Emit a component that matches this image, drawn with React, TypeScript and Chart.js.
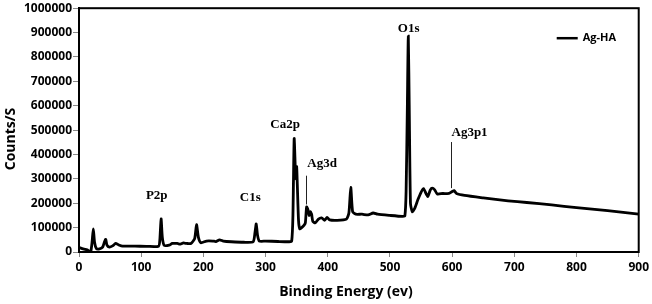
import React, { useEffect, useRef } from "react";
import { Chart, registerables } from "chart.js";

Chart.register(...registerables);

// Binding energy (eV) and counts/s
const energy = [
  0, 3, 8, 13, 17, 19, 21, 23, 25, 28, 33, 38, 41, 43, 45, 49, 54, 59, 64, 70,
  90, 110, 128, 130, 132, 134, 137, 145, 150, 158, 163, 168, 173, 180, 186, 189,
  192, 196, 205, 215, 220, 226, 232, 245, 265, 280, 283, 285, 287, 290, 300, 320,
  338, 342, 344, 346, 348, 349, 350, 351, 353, 355, 358, 362, 364, 366, 368, 370,
  372, 374, 376, 380, 385, 390, 395, 399, 403, 415, 430, 434, 437, 440, 445, 455,
  465, 473, 480, 500, 520, 524, 526, 528, 529.5, 531, 533, 536, 540, 545, 550,
  554, 558, 561, 565, 568, 572, 576, 585, 595, 600, 603, 607, 620, 650, 690, 720,
  760, 800, 850, 900,
];
const counts = [
  20000, 16000, 12000, 9000, 3000, 2000, 40000, 95000, 40000, 14000, 13000, 20000, 42000, 52000, 28000, 20000, 25000, 35000, 29000, 24000,
  24000, 23000, 24000, 50000, 136000, 60000, 27000, 28000, 35000, 35000, 32000, 37000, 35000, 35000, 55000, 112000,
  60000, 38000, 45000, 45000, 43000, 50000, 45000, 42000, 40000, 42000, 80000, 115000, 70000, 45000, 45000, 43000,
  42000, 45000, 150000, 465000, 330000, 300000, 350000, 280000, 130000, 95000, 100000, 110000, 120000, 185000, 175000, 150000,
  165000, 155000, 125000, 120000, 135000, 140000, 130000, 142000, 132000, 130000, 135000, 160000, 265000, 165000, 155000, 155000,
  152000, 160000, 155000, 150000, 146000, 148000, 250000, 600000, 885000, 600000, 200000, 165000, 180000, 215000, 245000,
  260000, 240000, 228000, 255000, 262000, 255000, 238000, 240000, 240000, 248000, 252000, 240000, 232000, 222000, 210000, 203000,
  193000, 182000, 170000, 155000,
];

const xMin = 0;
const xMax = 900;
const xStep = 100;
const yMin = 0;
const yMax = 1000000;
const yStep = 100000;

const seriesName = "Ag-HA";
const xTitle = "Binding Energy (ev)";
const yTitle = "Counts/S";

// Peak annotations (text placed at data coordinates)
const peakLabels = ["O1s", "Ca2p", "Ag3d", "P2p", "C1s", "Ag3p1"];
const peakLabelE = [530, 331.5, 391, 125, 275.5, 628];
const peakLabelC = [915000, 524000, 362000, 232000, 224000, 488000];

// Thin leader lines
const leaderE = [364.5, 598.5];
const leaderTop = [313000, 451000];
const leaderBottom = [195000, 262000];

const SANS = "'Open Sans', 'DejaVu Sans', sans-serif";
const SERIF = "'Liberation Serif', 'DejaVu Serif', serif";

const decorPlugin = {
  id: "decor",
  afterDatasetsDraw(chart: any) {
    const { ctx, chartArea, scales } = chart;
    const xs = scales.x;
    const ys = scales.y;
    ctx.save();

    // frame
    ctx.strokeStyle = "#000";
    ctx.lineWidth = 2;
    ctx.strokeRect(chartArea.left, chartArea.top, chartArea.right - chartArea.left, chartArea.bottom - chartArea.top);

    // leader lines
    ctx.lineWidth = 1;
    ctx.strokeStyle = "#222";
    for (let i = 0; i < leaderE.length; i++) {
      const x = Math.round(xs.getPixelForValue(leaderE[i])) + 0.5;
      ctx.beginPath();
      ctx.moveTo(x, ys.getPixelForValue(leaderTop[i]));
      ctx.lineTo(x, ys.getPixelForValue(leaderBottom[i]));
      ctx.stroke();
    }

    // peak labels
    ctx.fillStyle = "#000";
    ctx.font = `bold 13px ${SERIF}`;
    ctx.textAlign = "center";
    ctx.textBaseline = "middle";
    for (let i = 0; i < peakLabels.length; i++) {
      ctx.fillText(peakLabels[i], xs.getPixelForValue(peakLabelE[i]), ys.getPixelForValue(peakLabelC[i]));
    }

    // legend
    const lx = chartArea.right - 82;
    const ly = chartArea.top + 30;
    ctx.strokeStyle = "#000";
    ctx.lineWidth = 2.5;
    ctx.beginPath();
    ctx.moveTo(lx, ly);
    ctx.lineTo(lx + 21, ly);
    ctx.stroke();
    ctx.font = `bold 11px ${SANS}`;
    ctx.textAlign = "left";
    ctx.fillText(seriesName, lx + 26, ly);

    // axis titles
    ctx.font = `bold 14px ${SANS}`;
    ctx.textAlign = "center";
    ctx.fillText(xTitle, 346, 292);
    ctx.translate(11, 139);
    ctx.rotate(-Math.PI / 2);
    ctx.fillText(yTitle, 0, 0);

    ctx.restore();
  },
};

export default function App() {
  const ref = useRef<HTMLCanvasElement | null>(null);

  useEffect(() => {
    document.body.style.margin = "0";
    if (!ref.current) return;
    const points = energy.map((e, i) => ({ x: e, y: counts[i] }));
    const chart = new Chart(ref.current, {
      type: "line",
      data: {
        datasets: [
          {
            label: seriesName,
            data: points,
            borderColor: "#000",
            borderWidth: 2.8,
            pointRadius: 0,
            tension: 0.2,
            fill: false,
          },
        ],
      },
      options: {
        animation: false,
        responsive: true,
        maintainAspectRatio: false,
        layout: { padding: { top: 6, right: 11, left: 0, bottom: 0 } },
        plugins: {
          legend: { display: false },
          tooltip: { enabled: false },
        },
        scales: {
          x: {
            type: "linear",
            min: xMin,
            max: xMax,
            afterFit: (s: any) => {
              s.height = 52;
            },
            ticks: {
              stepSize: xStep,
              color: "#000",
              padding: 3,
              maxRotation: 0,
              font: { family: SANS, size: 12, weight: "bold" },
            },
            grid: { drawOnChartArea: false, tickLength: 5, color: "#888" },
            border: { color: "#000", width: 2 },
          },
          y: {
            type: "linear",
            min: yMin,
            max: yMax,
            afterFit: (s: any) => {
              s.width = 79;
            },
            ticks: {
              stepSize: yStep,
              color: "#000",
              padding: 1,
              callback: (v: any) => String(v),
              font: { family: SANS, size: 12, weight: "bold" },
            },
            grid: { drawOnChartArea: false, tickLength: 6, color: "#888" },
            border: { color: "#000", width: 2 },
          },
        },
      },
      plugins: [decorPlugin],
    });
    return () => chart.destroy();
  }, []);

  return (
    <div style={{ position: "fixed", left: 0, top: 0, width: 652, height: 304, background: "#fff" }}>
      <canvas ref={ref} />
    </div>
  );
}
